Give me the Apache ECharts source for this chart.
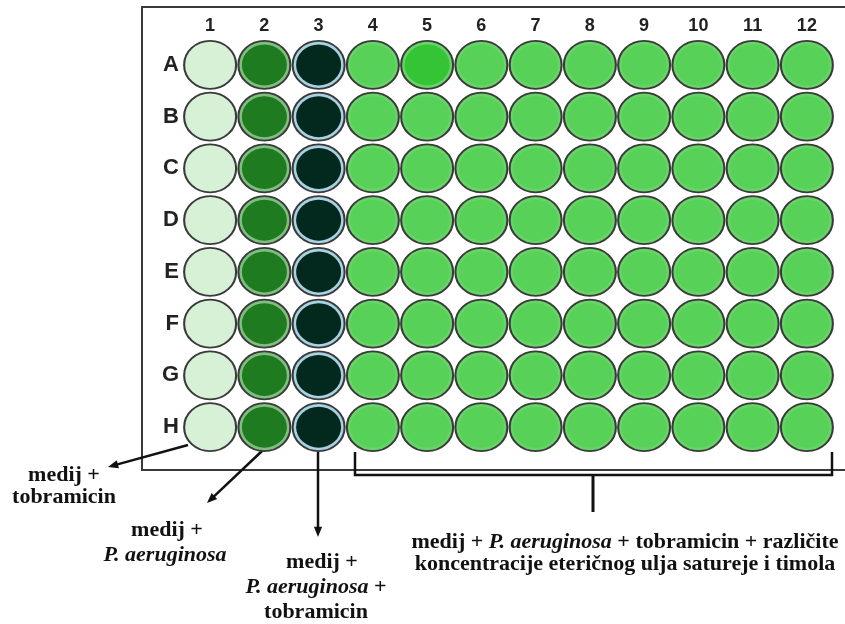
<!DOCTYPE html>
<html>
<head>
<meta charset="utf-8">
<script src="https://cdn.jsdelivr.net/npm/echarts@6/dist/echarts.min.js"></script>
<style>
html,body{margin:0;padding:0;background:#fff;}
#plate{width:845px;height:624px;}
</style>
</head>
<body>
<div id="plate"></div>
<script>
// plate layout
var rows = ['A', 'B', 'C', 'D', 'E', 'F', 'G', 'H'];
var cols = ['1', '2', '3', '4', '5', '6', '7', '8', '9', '10', '11', '12'];
// well content group per column (0 = medij+tobramicin, 1 = medij+P.aeruginosa, 2 = +tobramicin, 3 = test)
var colGroup = [0, 1, 2, 3, 3, 3, 3, 3, 3, 3, 3, 3];
// wells that look brighter than the rest of their group
var brightWells = [['5', 'A']];

var fillColor = ['#d6f1d6', '#1f7b1f', '#03291f', '#58d158'];
var ringColor = ['#d6f1d6', '#7fbf7f', '#a9d3e3', '#66d466'];
var brightFill = '#35c435';

var outer = [], inner = [];
for (var r = 0; r < rows.length; r++) {
	for (var c = 0; c < cols.length; c++) {
		var g = colGroup[c];
		var fill = fillColor[g];
		for (var k = 0; k < brightWells.length; k++) {
			if (brightWells[k][0] == cols[c] && brightWells[k][1] == rows[r]) fill = brightFill;
		}
		outer.push({value: [cols[c], rows[r]], itemStyle: {color: ringColor[g]}});
		inner.push({value: [cols[c], rows[r]], itemStyle: {color: fill}});
	}
}

var myChart = echarts.init(document.getElementById('plate'));
var serif = '"Liberation Serif", "DejaVu Serif", serif';
var rich = {i: {fontFamily: serif, fontWeight: 'bold', fontStyle: 'italic', fontSize: 22, color: '#111'}};

function label(x, y, text, align) {
	return {
		type: 'text', x: x, y: y,
		style: {
			text: text, x: 0, y: 0,
			font: 'bold 22px ' + serif, fill: '#111',
			align: align || 'center', verticalAlign: 'middle', rich: rich
		}
	};
}
function arrow(x1, y1, x2, y2) {
	var a = Math.atan2(y2 - y1, x2 - x1), L = 11, w = 0.38;
	return [
		{type: 'line', shape: {x1: x1, y1: y1, x2: x2 - Math.cos(a) * 6, y2: y2 - Math.sin(a) * 6}, style: {stroke: '#111', lineWidth: 2.5}},
		{type: 'polygon', shape: {points: [[x2, y2],
			[x2 - L * Math.cos(a - w), y2 - L * Math.sin(a - w)],
			[x2 - L * Math.cos(a + w), y2 - L * Math.sin(a + w)]]}, style: {fill: '#111'}}
	];
}

var graphics = [
	{type: 'rect', z: -10, shape: {x: 142, y: 7, width: 720, height: 463}, style: {fill: '#fff', stroke: '#3a3a3a', lineWidth: 2}},
	{type: 'polyline', shape: {points: [[355, 452], [355, 475], [832, 475], [832, 452]]}, style: {stroke: '#111', lineWidth: 2.5, fill: null}},
	{type: 'line', shape: {x1: 593, y1: 475, x2: 593, y2: 512}, style: {stroke: '#111', lineWidth: 3}},
	label(64, 475, 'medij +'),
	label(64, 497, 'tobramicin'),
	label(167, 530, 'medij +'),
	label(165, 555, '{i|P. aeruginosa}'),
	label(322, 562, 'medij +'),
	label(316, 587, '{i|P. aeruginosa} +'),
	label(316, 612, 'tobramicin'),
	label(625, 542, 'medij + {i|P. aeruginosa} + tobramicin + različite'),
	label(625, 564, 'koncentracije eteričnog ulja satureje i timola')
];
graphics = graphics.concat(arrow(188, 445, 108, 467), arrow(262, 451, 207, 503), arrow(318, 452, 318, 537));

var option = {
	backgroundColor: '#fff',
	animation: false,
	grid: {left: 183, right: 11, top: 39, bottom: 171},
	xAxis: {
		type: 'category', position: 'top', data: cols,
		axisLine: {show: false}, axisTick: {show: false}, splitLine: {show: false},
		axisLabel: {fontFamily: 'Liberation Sans, Arial', fontWeight: 'bold', fontSize: 18, color: '#222', margin: 4}
	},
	yAxis: {
		type: 'category', inverse: true, data: rows,
		axisLine: {show: false}, axisTick: {show: false}, splitLine: {show: false},
		axisLabel: {fontFamily: 'Liberation Sans, Arial', fontWeight: 'bold', fontSize: 22, color: '#222', margin: 4}
	},
	series: [
		{type: 'scatter', data: outer, symbol: 'circle', symbolSize: [52, 48], silent: true,
			itemStyle: {borderColor: '#3a3a3a', borderWidth: 2, opacity: 1}},
		{type: 'scatter', data: inner, symbol: 'circle', symbolSize: [45, 41], silent: true, z: 3,
			itemStyle: {opacity: 1}}
	],
	graphic: graphics
};
myChart.setOption(option);
</script>
</body>
</html>
